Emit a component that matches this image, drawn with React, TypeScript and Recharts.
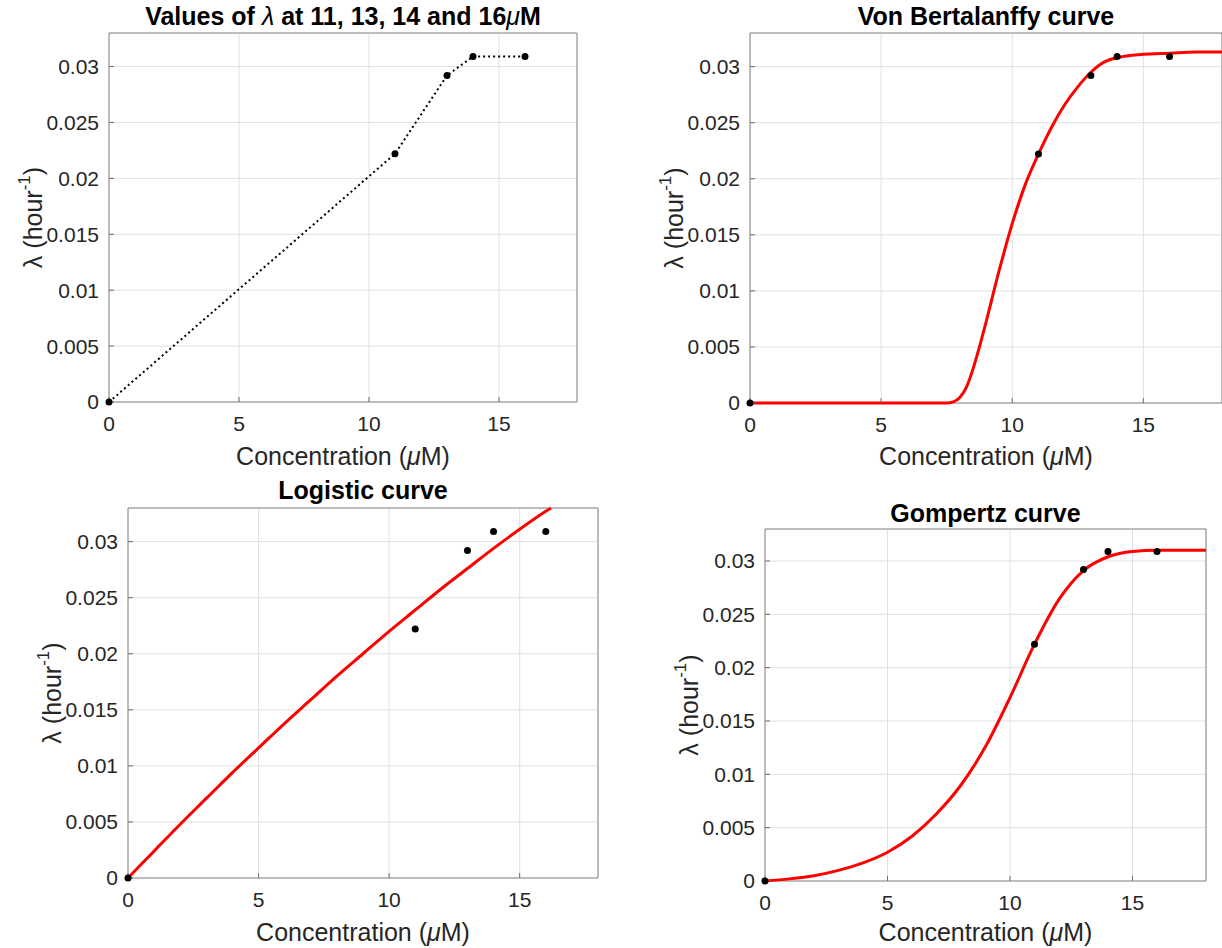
import { LineChart, Line, XAxis, YAxis, CartesianGrid, ReferenceArea } from "recharts";

const FONT = '"Liberation Sans", Arial, Helvetica, sans-serif';

// axis setup shared by the four panels
const xTicks = [0, 5, 10, 15];
const yTicks = [0, 0.005, 0.01, 0.015, 0.02, 0.025, 0.03];
const xMax = 18;
const yMax = 0.033;

// measured lambda values
const sampleConc = [0, 11, 13, 14, 16];
const sampleLambda = [0, 0.0222, 0.0292, 0.0309, 0.0309];

// Von Bertalanffy fit
const vbConc = [0, 1, 2, 3, 4, 5, 6, 7, 7.5, 7.75, 8, 8.25, 8.5, 8.75, 9, 9.5, 10, 10.5, 11, 11.5, 12, 12.5, 13, 13.5, 14, 14.5, 15, 16, 17, 18];
const vbLambda = [0, 0, 0, 0, 0, 0, 0, 0, 0, 0.0001, 0.0005, 0.0014, 0.003, 0.005, 0.0072, 0.0118, 0.016, 0.0195, 0.0222, 0.0246, 0.0266, 0.0282, 0.0295, 0.0304, 0.0308, 0.031, 0.0311, 0.0312, 0.0313, 0.0313];

// Logistic fit
const logConc = [0, 1, 2, 3, 4, 5, 6, 7, 8, 9, 10, 11, 12, 13, 14, 15, 16, 16.2];
const logLambda = [0, 0.0024, 0.0048, 0.0071, 0.0094, 0.0116, 0.0138, 0.0159, 0.018, 0.02, 0.022, 0.0239, 0.0258, 0.0276, 0.0294, 0.0311, 0.0327, 0.033];

// Gompertz fit
const gompConc = [0, 1, 2, 3, 4, 5, 6, 7, 8, 9, 10, 11, 12, 13, 14, 15, 16, 17, 18];
const gompLambda = [0, 0.0002, 0.0005, 0.001, 0.0017, 0.0027, 0.0042, 0.0063, 0.009, 0.0126, 0.0172, 0.0222, 0.0264, 0.0291, 0.0304, 0.0309, 0.031, 0.031, 0.031];

const toPoints = (xs: number[], ys: number[]) => xs.map((x, i) => ({ x, y: ys[i] }));

const samples = toPoints(sampleConc, sampleLambda);

type Box = { x: number; y: number; w: number; h: number };

const YW = 80;
const XH = 40;
const PAD = 10;

const boxes: Box[] = [
  { x: 109, y: 33, w: 468, h: 369 },
  { x: 750, y: 33, w: 472, h: 370 },
  { x: 128, y: 508, w: 470, h: 370 },
  { x: 765, y: 529, w: 441, h: 352 },
];

const titles = ["Von Bertalanffy curve", "Logistic curve", "Gompertz curve"];
const titleY = [16, 16, 490, 513];
const xLabelY = [456, 456, 932, 932];

function Panel({ box, curve, dotted }: { box: Box; curve?: { x: number; y: number }[]; dotted?: boolean }) {
  return (
    <div style={{ position: "absolute", left: box.x - YW - PAD, top: box.y - PAD }}>
      <LineChart
        width={box.w + YW + 2 * PAD}
        height={box.h + XH + 2 * PAD}
        margin={{ top: PAD, right: PAD, bottom: PAD, left: PAD }}
      >
        <CartesianGrid stroke="#e0e0e0" />
        <XAxis
          type="number"
          dataKey="x"
          domain={[0, xMax]}
          ticks={xTicks}
          height={XH}
          axisLine={false}
          tickSize={-5}
          tickMargin={19}
          tickLine={{ stroke: "#6e6e6e" }}
          tick={{ fontSize: 21, fill: "#262626", fontFamily: FONT }}
        />
        <YAxis
          type="number"
          domain={[0, yMax]}
          ticks={yTicks}
          width={YW}
          axisLine={false}
          tickSize={-5}
          tickMargin={15}
          tickLine={{ stroke: "#6e6e6e" }}
          tick={{ fontSize: 21, fill: "#262626", fontFamily: FONT }}
          tickFormatter={(v: number) => String(v)}
        />
        <ReferenceArea x1={0} x2={xMax} y1={0} y2={yMax} fill="none" stroke="#8a8a8a" strokeWidth={1} ifOverflow="visible" />
        {curve && (
          <Line
            data={curve}
            dataKey="y"
            type="monotone"
            stroke="#ff0000"
            strokeWidth={3}
            dot={false}
            activeDot={false}
            isAnimationActive={false}
          />
        )}
        <Line
          data={samples}
          dataKey="y"
          type="linear"
          stroke={dotted ? "#000" : "none"}
          strokeWidth={2}
          strokeDasharray="2 3"
          dot={{ r: 3.5, fill: "#000", stroke: "none" }}
          activeDot={false}
          isAnimationActive={false}
        />
      </LineChart>
    </div>
  );
}

export default function App() {
  const curves = [undefined, toPoints(vbConc, vbLambda), toPoints(logConc, logLambda), toPoints(gompConc, gompLambda)];
  return (
    <div style={{ position: "absolute", left: 0, top: 0, width: 1222, height: 948, overflow: "hidden", background: "#fff" }}>
      {boxes.map((b, i) => (
        <Panel key={i} box={b} curve={curves[i]} dotted={i === 0} />
      ))}
      <svg width={1222} height={948} style={{ position: "absolute", left: 0, top: 0, pointerEvents: "none" }}>
        {boxes.map((b, i) => {
          const cx = b.x + b.w / 2;
          const cy = b.y + b.h / 2;
          const lx = b.x - 76;
          return (
            <g key={i} fontFamily={FONT}>
              <text x={cx} y={titleY[i]} textAnchor="middle" dominantBaseline="central" fontSize={25} fontWeight="bold" fill="#000">
                {i === 0 ? (
                  <>
                    Values of <tspan fontStyle="italic" fontWeight="normal">λ</tspan> at 11, 13, 14 and 16
                    <tspan fontStyle="italic" fontWeight="normal">μ</tspan>M
                  </>
                ) : (
                  titles[i - 1]
                )}
              </text>
              <text x={cx} y={xLabelY[i]} textAnchor="middle" dominantBaseline="central" fontSize={25} fill="#262626">
                Concentration (<tspan fontStyle="italic">μ</tspan>M)
              </text>
              <text
                x={lx}
                y={cy}
                textAnchor="middle"
                dominantBaseline="central"
                fontSize={25}
                fill="#262626"
                transform={`rotate(-90, ${lx}, ${cy})`}
              >
                λ (hour
                <tspan fontSize={17} dy={-9}>-1</tspan>
                <tspan dy={9}>)</tspan>
              </text>
            </g>
          );
        })}
      </svg>
    </div>
  );
}
